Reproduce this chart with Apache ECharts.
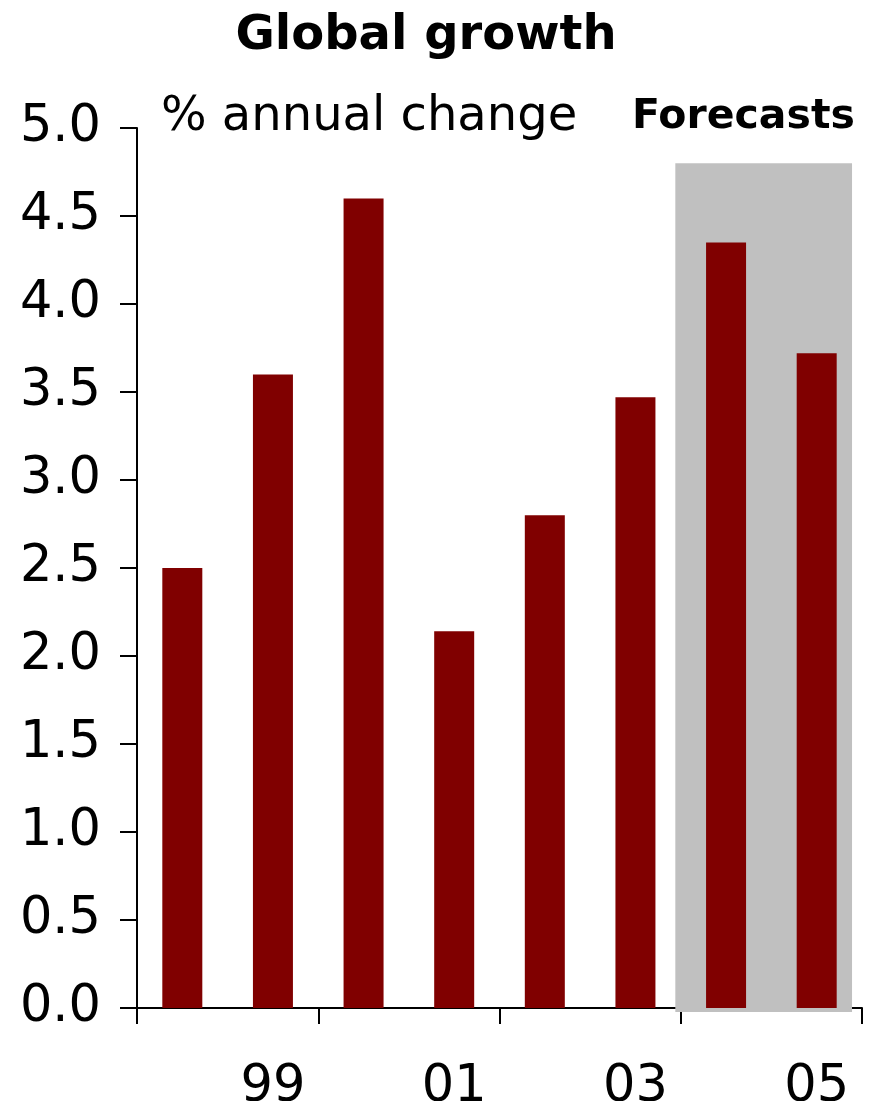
<!DOCTYPE html>
<html>
<head>
<meta charset="utf-8">
<script src="https://cdn.jsdelivr.net/npm/echarts@6/dist/echarts.min.js"></script>
<style>
  html, body { margin: 0; padding: 0; background: #ffffff; }
  #chart { width: 870px; height: 1101px; }
</style>
</head>
<body>
<div id="chart"></div>
<script>
// Annual global growth, 1998-2005 (2004-05 are forecasts)
const years = ['98', '99', '00', '01', '02', '03', '04', '05'];
const growth = [2.5, 3.6, 4.6, 2.14, 2.8, 3.47, 4.35, 3.72];
const yTicks = { min: 0, max: 5, step: 0.5 };
const titleText = 'Global growth';
const unitText = '% annual change';
const forecastText = 'Forecasts';

// Forecast period shading, in category-band units along x and % along y
const forecastBand = { from: 5.94, to: 7.89, top: 4.8, bottom: -0.023 };

const FONT = '"DejaVu Sans", Verdana, sans-serif';
const chart = echarts.init(document.getElementById('chart'), null, { renderer: 'canvas' });

chart.setOption({
  backgroundColor: '#ffffff',
  animation: false,
  title: [
    { text: titleText, left: 421, top: 8, textAlign: 'center',
      textStyle: { fontFamily: FONT, fontSize: 48, fontWeight: 'bold', color: '#000' } },
    { text: unitText, left: 156, top: 89,
      textStyle: { fontFamily: FONT, fontSize: 48, fontWeight: 'normal', color: '#000' } },
    { text: forecastText, left: 627, top: 92,
      textStyle: { fontFamily: FONT, fontSize: 41, fontWeight: 'bold', color: '#000' } }
  ],
  grid: { left: 137, right: 8, top: 128, bottom: 93, containLabel: false, outerBoundsMode: 'none' },
  xAxis: [
    {
      type: 'category',
      data: years,
      boundaryGap: true,
      axisLine: { lineStyle: { color: '#000', width: 2 } },
      axisTick: { show: true, interval: 1, length: 16, lineStyle: { color: '#000', width: 2 } },
      axisLabel: {
        interval: function (i) { return i % 2 === 1; },
        margin: 54,
        fontFamily: FONT, fontSize: 51, color: '#000'
      },
      splitLine: { show: false }
    },
    { type: 'value', min: 0, max: years.length, show: false }
  ],
  yAxis: {
    type: 'value',
    min: yTicks.min, max: yTicks.max, interval: yTicks.step,
    axisLine: { show: true, lineStyle: { color: '#000', width: 2 } },
    axisTick: { show: true, length: 17, lineStyle: { color: '#000', width: 2 } },
    axisLabel: {
      margin: 36,
      fontFamily: FONT, fontSize: 51, color: '#000',
      formatter: function (v) { return v.toFixed(1); }
    },
    splitLine: { show: false }
  },
  series: [
    {
      type: 'custom',
      xAxisIndex: 1,
      z: 1,
      silent: true,
      clip: false,
      data: [[forecastBand.from, forecastBand.to, forecastBand.top, forecastBand.bottom]],
      renderItem: function (params, api) {
        const p0 = api.coord([api.value(0), api.value(2)]);
        const p1 = api.coord([api.value(1), api.value(3)]);
        return {
          type: 'rect',
          shape: { x: p0[0], y: p0[1], width: p1[0] - p0[0], height: p1[1] - p0[1] },
          style: { fill: '#c0c0c0' }
        };
      }
    },
    {
      type: 'bar',
      data: growth,
      barWidth: 40,
      z: 3,
      itemStyle: { color: '#800000' }
    }
  ]
});
</script>
</body>
</html>
